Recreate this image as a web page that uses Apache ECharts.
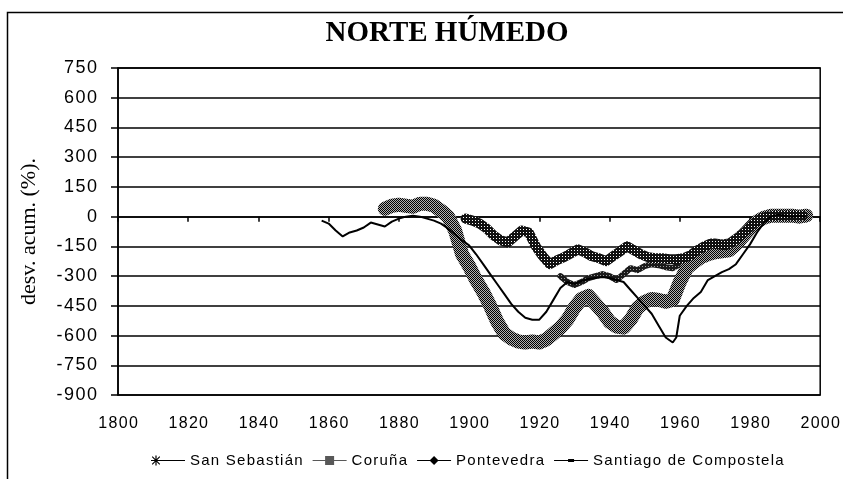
<!DOCTYPE html>
<html>
<head>
<meta charset="utf-8">
<script src="https://cdn.jsdelivr.net/npm/echarts@6/dist/echarts.min.js"></script>
<style>
  html, body { margin: 0; padding: 0; background: #fff; }
  #chart { width: 843px; height: 479px; }
</style>
</head>
<body>
<div id="chart"></div>
<script>
// x ticks and y ticks
const xTicks = [1800, 1820, 1840, 1860, 1880, 1900, 1920, 1940, 1960, 1980, 2000];
const yTicks = [750, 600, 450, 300, 150, 0, -150, -300, -450, -600, -750, -900];

// San Sebastián
const sanSebYears = [1926, 1928, 1930, 1932, 1934, 1936, 1938, 1940, 1942, 1944, 1946, 1948, 1950, 1952, 1954, 1956, 1958, 1960,
    1962, 1964, 1966, 1968, 1970, 1972, 1974, 1976, 1978, 1980, 1982, 1984, 1986, 1988, 1990, 1992, 1994, 1996];
const sanSebValues = [-300, -330, -345, -330, -310, -300, -290, -300, -320, -290, -260, -270, -250, -240, -245, -255, -260, -240,
    -215, -190, -165, -140, -125, -130, -125, -100, -70, -40, -20, -5, 5, 0, 5, 0, 5, 0];

// Coruña
const corunaYears = [1876, 1878, 1880, 1882, 1884, 1886, 1888, 1890, 1892, 1894, 1896, 1898, 1900, 1902, 1904, 1906, 1908, 1910,
    1912, 1914, 1916, 1918, 1920, 1922, 1924, 1926, 1928, 1930, 1932, 1934, 1936, 1938, 1940, 1942, 1944, 1946, 1948, 1950,
    1952, 1954, 1956, 1958, 1960, 1962, 1964, 1966, 1968, 1970, 1972, 1974, 1976, 1978, 1980, 1982, 1984, 1986, 1988, 1990,
    1992, 1994, 1996];
const corunaValues = [40, 55, 60, 55, 50, 65, 65, 55, 30, 0, -70, -190, -250, -320, -380, -450, -530, -590,
    -615, -630, -635, -630, -635, -620, -590, -560, -520, -460, -415, -400, -440, -480, -530, -555, -560, -520, -460, -430,
    -415, -420, -430, -420, -330, -260, -230, -205, -190, -180, -175, -170, -140, -100, -60, -25, -5, 5, 5, 5,
    5, 0, 5];

// Pontevedra
const pontevedraYears = [1899, 1901, 1903, 1905, 1907, 1909, 1911, 1913, 1915, 1917, 1919, 1921, 1923, 1925, 1927, 1929, 1931,
    1933, 1935, 1937, 1939, 1941, 1943, 1945, 1947, 1949, 1951, 1953, 1955, 1957, 1959, 1961, 1963, 1965, 1967, 1969, 1971,
    1973, 1975, 1977, 1979, 1981, 1983, 1985, 1987, 1989, 1991, 1993, 1995];
const pontevedraValues = [-10, -20, -35, -60, -95, -120, -130, -100, -70, -80, -150, -200, -240, -220, -205, -185, -165,
    -180, -200, -210, -225, -200, -175, -150, -170, -190, -205, -210, -210, -215, -215, -210, -195, -170, -150, -135, -140,
    -145, -130, -100, -70, -35, -10, 0, 5, 5, 5, 5, 5];

// Santiago de Compostela
const santiagoYears = [1858, 1860, 1862, 1864, 1866, 1868, 1870, 1872, 1874, 1876, 1878, 1880, 1882, 1884, 1886, 1888, 1890,
    1892, 1894, 1896, 1898, 1900, 1902, 1904, 1906, 1908, 1910, 1912, 1914, 1916, 1918, 1920, 1922, 1924, 1926, 1928, 1930,
    1932, 1934, 1936, 1938, 1940, 1942, 1944, 1946, 1948, 1950, 1952, 1954, 1956, 1958, 1959, 1960, 1962, 1964, 1966, 1968,
    1970, 1972, 1974, 1976, 1978, 1980, 1982, 1984, 1986, 1988, 1990, 1992, 1994, 1996];
const santiagoValues = [-20, -35, -70, -100, -80, -70, -55, -30, -40, -50, -25, -10, 0, 5, 0, -10, -20,
    -35, -60, -90, -120, -145, -190, -240, -290, -340, -390, -440, -480, -510, -520, -520, -480, -420, -360, -330, -340,
    -325, -315, -310, -305, -310, -320, -330, -370, -410, -450, -490, -550, -610, -635, -610, -500, -450, -410, -380, -320,
    -300, -280, -265, -240, -190, -140, -80, -30, 0, 10, 5, 0, 5, 0];

function pairs(xs, ys) {
    return xs.map((x, i) => [x, ys[i]]);
}

// old excel fonts look letter-spaced, fake it with hair spaces
function spaced(s) {
    return String(s).split('').join('\u200A');
}

function makePattern(size, cells, dark, light) {
    const c = document.createElement('canvas');
    c.width = size;
    c.height = size;
    const ctx = c.getContext('2d');
    ctx.fillStyle = light;
    ctx.fillRect(0, 0, size, size);
    ctx.fillStyle = dark;
    cells.forEach(([x, y]) => ctx.fillRect(x, y, 1, 1));
    return { image: c, repeat: 'repeat' };
}

// hatched grey band (Coruña) and dark speckled bands
const hatchFill = makePattern(2, [[0, 0], [1, 1]], '#000', '#b0b0b0');
const darkFill = makePattern(3, [[1, 1]], '#ffffff', '#111');
const darkFill2 = makePattern(3, [[0, 2]], '#9a9a9a', '#1a1a1a');

const iconSanSeb = 'path://M4.4,0H5.6V10H4.4Z M0,4.4H10V5.6H0Z M0.8,1.6L1.6,0.8L9.2,8.4L8.4,9.2Z '
    + 'M0.8,8.4L8.4,0.8L9.2,1.6L1.6,9.2Z M10,4.5H34V5.5H10Z';
const iconCoruna = 'path://M0,4.4H34V5.6H0Z M12.5,0.5H21.5V9.5H12.5Z M0,0L0.01,0L0,0.01Z M34,10L33.99,10L34,9.99Z';
const iconPontevedra = 'path://M0,4.5H34V5.5H0Z M17,0.5L21.5,5L17,9.5L12.5,5Z M0,0L0.01,0L0,0.01Z M34,10L33.99,10L34,9.99Z';
const iconSantiago = 'path://M0,4.5H34V5.5H0Z M14,3.6H20V6.4H14Z M0,0L0.01,0L0,0.01Z M34,10L33.99,10L34,9.99Z';

const chart = echarts.init(document.getElementById('chart'));

const option = {
    animation: false,
    backgroundColor: '#fff',
    title: {
        text: 'NORTE HÚMEDO',
        left: 442,
        top: 14,
        textAlign: 'center',
        textStyle: {
            fontFamily: 'Liberation Serif',
            fontWeight: 'bold',
            fontSize: 29,
            color: '#000',
        },
    },
    legend: {
        bottom: 6,
        left: 146,
        itemGap: 10,
        itemWidth: 34,
        itemHeight: 10,
        formatter: (name) => spaced(name),
        textStyle: {
            fontFamily: 'Liberation Sans',
            fontSize: 15,
            color: '#000',
        },
        data: [
            { name: 'San Sebastián', icon: iconSanSeb },
            { name: 'Coruña', icon: iconCoruna },
            { name: 'Pontevedra', icon: iconPontevedra },
            { name: 'Santiago de Compostela', icon: iconSantiago },
        ],
    },
    graphic: [{
        type: 'rect',
        shape: { x: 7.5, y: 12.5, width: 900, height: 600 },
        style: { fill: 'none', stroke: '#000', lineWidth: 1.5 },
        silent: true,
    }],
    grid: {
        left: 118,
        right: 22,
        top: 68,
        bottom: 84,
        show: true,
        borderColor: '#000',
        borderWidth: 1.5,
    },
    xAxis: [{
        type: 'value',
        min: 1800,
        max: 2000,
        interval: 20,
        position: 'bottom',
        axisLine: { onZero: true, lineStyle: { color: '#000', width: 1.5 } },
        axisTick: { show: true, length: 5, lineStyle: { color: '#000', width: 1.5 } },
        axisLabel: { show: false },
        splitLine: { show: false },
    }, {
        type: 'value',
        min: 1800,
        max: 2000,
        interval: 20,
        position: 'bottom',
        axisLine: { show: false, onZero: false },
        axisTick: { show: false },
        axisLabel: {
            margin: 21,
            fontFamily: 'Liberation Sans',
            fontSize: 16,
            color: '#000',
            customValues: xTicks,
            formatter: (v) => spaced(v),
        },
        splitLine: { show: false },
    }],
    yAxis: {
        type: 'value',
        min: -900,
        max: 750,
        interval: 150,
        name: 'desv. acum. (%).',
        nameLocation: 'middle',
        nameGap: 78,
        nameRotate: 90,
        nameTextStyle: {
            fontFamily: 'Liberation Serif',
            fontSize: 22,
            color: '#000',
        },
        axisLine: { show: true, lineStyle: { color: '#000', width: 1.5 } },
        axisTick: { show: true, length: 7, lineStyle: { color: '#000', width: 1.5 } },
        axisLabel: {
            margin: 21,
            fontFamily: 'Liberation Sans',
            fontSize: 18,
            color: '#000',
            customValues: yTicks,
            formatter: (v) => spaced(v),
        },
        splitLine: { show: true, lineStyle: { color: '#000', width: 1.5 } },
    },
    series: [
        {
            name: 'San Sebastián',
            type: 'line',
            data: pairs(sanSebYears, sanSebValues),
            showSymbol: false,
            lineStyle: { color: darkFill2, width: 6, join: 'round', cap: 'round' },
            itemStyle: { color: '#000' },
        },
        {
            name: 'Coruña',
            type: 'line',
            data: pairs(corunaYears, corunaValues),
            showSymbol: false,
            lineStyle: { color: hatchFill, width: 14, join: 'round', cap: 'round' },
            itemStyle: { color: hatchFill },
        },
        {
            name: 'Pontevedra',
            type: 'line',
            data: pairs(pontevedraYears, pontevedraValues),
            showSymbol: false,
            lineStyle: { color: darkFill, width: 10, join: 'round', cap: 'round' },
            itemStyle: { color: '#000' },
        },
        {
            name: 'Santiago de Compostela',
            type: 'line',
            data: pairs(santiagoYears, santiagoValues),
            showSymbol: false,
            lineStyle: { color: '#000', width: 2 },
            itemStyle: { color: '#000' },
        },
    ],
};

chart.setOption(option);
</script>
</body>
</html>
